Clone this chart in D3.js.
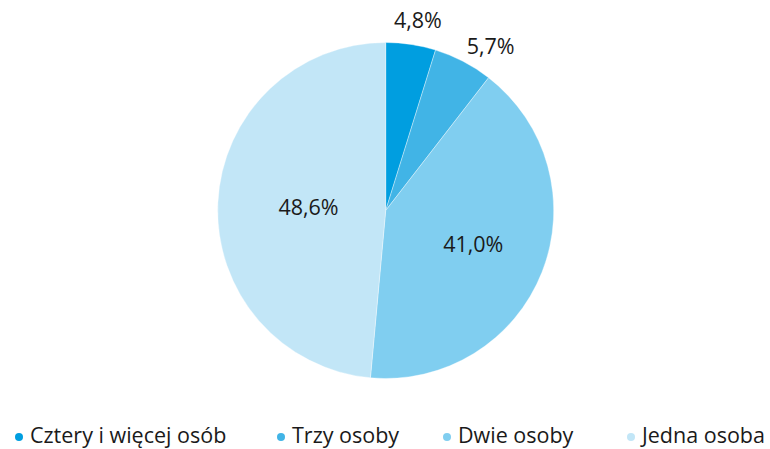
<!DOCTYPE html>
<html><head><meta charset="utf-8">
<script src="https://cdn.jsdelivr.net/npm/d3@7"></script>
<style>body{margin:0;background:#fff}svg{display:block}text{font-family:"Open Sans",sans-serif;fill:#1a1a1a}</style>
</head><body><svg id="c" width="770" height="449"></svg>
<script>
const categories = ["Cztery i więcej osób","Trzy osoby","Dwie osoby","Jedna osoba"];
const values = [4.8, 5.7, 41.0, 48.6];
const labels = ["4,8%","5,7%","41,0%","48,6%"];
const colors = ["#009ee0","#41b4e6","#80cef0","#c2e6f7"];

const svg = d3.select("#c");
const cx = 385.7, cy = 210.5, R = 168;
const g = svg.append("g").attr("transform",`translate(${cx},${cy})`);
const pie = d3.pie().sort(null).value(d=>d)(values);
const arc = d3.arc().innerRadius(0).outerRadius(R);
g.selectAll("path").data(pie).join("path")
  .attr("d",arc).attr("fill",(d,i)=>colors[i])
  .attr("stroke","#fff").attr("stroke-width",0.6).attr("stroke-opacity",0.6);

const labelR = [R+25, R+27, R*0.56, R*0.46];
const angShift = [0.017, 0.088, 0, 0];
g.selectAll("text.lab").data(pie).join("text").attr("class","lab")
  .attr("transform",(d,i)=>{const a=(d.startAngle+d.endAngle)/2+angShift[i];const r=labelR[i];return `translate(${Math.sin(a)*r},${-Math.cos(a)*r})`;})
  .attr("text-anchor","middle").attr("dy","0.35em")
  .style("font-size","21.5px").text((d,i)=>labels[i]);

const legX = [19, 281, 447, 631];
const lg = svg.append("g");
categories.forEach((c,i)=>{
  lg.append("circle").attr("cx",legX[i]).attr("cy",437).attr("r",4).attr("fill",colors[i]);
  lg.append("text").attr("x",legX[i]+11).attr("y",443).style("font-size","21.5px").text(c);
});
</script></body></html>
